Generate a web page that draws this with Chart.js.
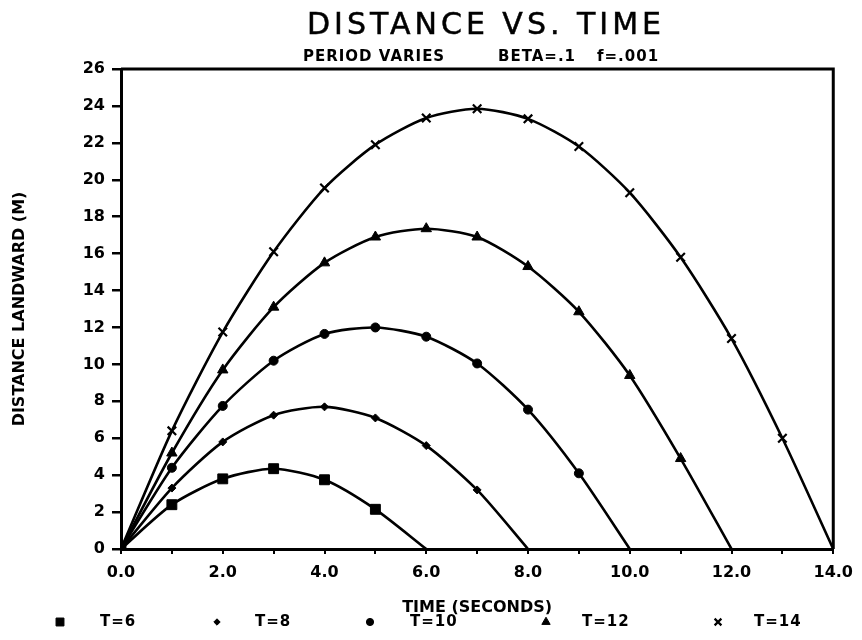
<!DOCTYPE html>
<html>
<head>
<meta charset="utf-8">
<title>Distance vs. Time</title>
<script src="https://cdn.jsdelivr.net/npm/chart.js@4/dist/chart.umd.min.js"></script>
<style>
  html, body { margin: 0; padding: 0; background: #fff; }
  #wrap { width: 862px; height: 640px; }
</style>
</head>
<body>
<div id="wrap"><canvas id="c" width="862" height="640"></canvas></div>
<script>
// Time in seconds (shared x values)
const times = [0, 1, 2, 3, 4, 5, 6, 7, 8, 9, 10, 11, 12, 13, 14];

// Series labels (wave period)
const seriesNames = ['T=6', 'T=8', 'T=10', 'T=12', 'T=14'];

// Distance landward (m) for each period, one value per second
const distT6  = [0, 2.4, 3.8, 4.35, 3.75, 2.15, 0];
const distT8  = [0, 3.3, 5.8, 7.25, 7.7, 7.1, 5.6, 3.2, 0];
const distT10 = [0, 4.4, 7.75, 10.2, 11.65, 12.0, 11.5, 10.05, 7.55, 4.1, 0];
const distT12 = [0, 5.2, 9.7, 13.1, 15.5, 16.9, 17.35, 16.9, 15.3, 12.85, 9.4, 4.9, 0];
const distT14 = [0, 6.4, 11.75, 16.1, 19.55, 21.9, 23.35, 23.85, 23.3, 21.8, 19.3, 15.8, 11.4, 6.0, 0];

// Axis tick labels
const xTickLabels = ['0.0', '2.0', '4.0', '6.0', '8.0', '10.0', '12.0', '14.0'];
const yTickValues = [0, 2, 4, 6, 8, 10, 12, 14, 16, 18, 20, 22, 24, 26];

const allSeries = [distT6, distT8, distT10, distT12, distT14];
const markerStyles = [
  { pointStyle: 'rect',     radius: 7,   border: 1 },
  { pointStyle: 'rectRot',  radius: 4,   border: 1 },
  { pointStyle: 'circle',   radius: 4.5, border: 1 },
  { pointStyle: 'triangle', radius: 6,   border: 1 },
  { pointStyle: 'crossRot', radius: 6,   border: 2.2 }
];

const FONT = '"DejaVu Sans", "Liberation Sans", sans-serif';

const datasets = allSeries.map((vals, i) => ({
  label: seriesNames[i],
  data: vals.map((v, k) => ({ x: times[k], y: v })),
  borderColor: '#000',
  borderWidth: 2.6,
  backgroundColor: '#000',
  pointStyle: markerStyles[i].pointStyle,
  pointRadius: (c) => (c.dataIndex === vals.length - 1 ? 0 : markerStyles[i].radius),
  pointHoverRadius: 0,
  pointBackgroundColor: '#000',
  pointBorderColor: '#000',
  pointBorderWidth: markerStyles[i].border,
  tension: 0.25,
  fill: false
}));

// Heading lines above the plot
const headingPlugin = {
  id: 'heading',
  afterDraw(chart) {
    const ctx = chart.ctx;
    ctx.save();
    ctx.fillStyle = '#000';
    ctx.strokeStyle = '#000';
    ctx.textBaseline = 'middle';
    ctx.textAlign = 'center';
    ctx.font = 'normal 30px ' + FONT;
    if ('letterSpacing' in ctx) ctx.letterSpacing = '4px';
    ctx.lineWidth = 0.5;
    ctx.fillText('DISTANCE VS. TIME', 486, 26);
    ctx.strokeText('DISTANCE VS. TIME', 486, 26);
    if ('letterSpacing' in ctx) ctx.letterSpacing = '1px';
    ctx.textAlign = 'left';
    ctx.font = 'bold 15px ' + FONT;
    ctx.fillText('PERIOD VARIES', 303, 57);
    ctx.fillText('BETA=.1', 498, 57);
    ctx.fillText('f=.001', 597, 57);
    ctx.restore();
  }
};

// Top and right edges of the plot frame
const framePlugin = {
  id: 'frame',
  afterDatasetsDraw(chart) {
    const { ctx, chartArea: a } = chart;
    ctx.save();
    ctx.strokeStyle = '#000';
    ctx.lineWidth = 3;
    ctx.beginPath();
    ctx.moveTo(a.left, a.top);
    ctx.lineTo(a.right, a.top);
    ctx.lineTo(a.right, a.bottom);
    ctx.stroke();
    ctx.restore();
  }
};

// Symbol key along the bottom edge
const keyPlugin = {
  id: 'bottomKey',
  afterDraw(chart, args, opts) {
    const ctx = chart.ctx;
    ctx.save();
    chart.data.datasets.forEach((ds, i) => {
      const m = markerStyles[i];
      ctx.fillStyle = '#000';
      ctx.strokeStyle = '#000';
      ctx.lineWidth = m.border;
      Chart.helpers.drawPoint(ctx, {
        pointStyle: m.pointStyle,
        radius: m.radius * 0.8,
        rotation: 0,
        borderWidth: m.border
      }, opts.markX[i], opts.y);
      ctx.font = 'bold 15px ' + FONT;
      if ('letterSpacing' in ctx) ctx.letterSpacing = '1px';
      ctx.textAlign = 'left';
      ctx.textBaseline = 'middle';
      ctx.fillText(ds.label, opts.textX[i], opts.y);
      if ('letterSpacing' in ctx) ctx.letterSpacing = '0px';
    });
    ctx.restore();
  }
};

new Chart(document.getElementById('c'), {
  type: 'line',
  data: { datasets },
  plugins: [headingPlugin, framePlugin, keyPlugin],
  options: {
    responsive: false,
    animation: false,
    events: [],
    layout: { padding: { top: 69, right: 24, left: 0, bottom: 0 } },
    plugins: {
      legend: { display: false },
      tooltip: { enabled: false },
      title: { display: false },
      bottomKey: {
        y: 622,
        markX: [60, 217, 370, 546, 718],
        textX: [100, 255, 410, 582, 754]
      }
    },
    scales: {
      x: {
        type: 'linear',
        min: 0,
        max: 14,
        afterFit(s) { s.height = 91; },
        afterBuildTicks(s) { s.ticks = times.map(t => ({ value: t })); },
        border: { display: true, color: '#000', width: 3 },
        grid: { drawOnChartArea: false, drawTicks: true, tickLength: 5, color: '#000', lineWidth: 2 },
        ticks: {
          autoSkip: false,
          maxRotation: 0,
          padding: 9,
          color: '#000',
          font: { family: FONT, size: 16, weight: 'bold' },
          callback: (v) => (v % 2 === 0 ? xTickLabels[v / 2] : '')
        },
        title: {
          display: true,
          text: 'TIME (SECONDS)',
          color: '#000',
          font: { family: FONT, size: 16, weight: 'bold' },
          padding: { top: 0, bottom: 23 }
        }
      },
      y: {
        type: 'linear',
        min: 0,
        max: 26,
        afterFit(s) { s.width = 121; },
        afterBuildTicks(s) { s.ticks = yTickValues.map(v => ({ value: v })); },
        border: { display: true, color: '#000', width: 3 },
        grid: { drawOnChartArea: false, drawTicks: true, tickLength: 9, color: '#000', lineWidth: 2.5 },
        ticks: {
          padding: 7,
          color: '#000',
          font: { family: FONT, size: 16, weight: 'bold' },
          callback: (v) => String(v)
        },
        title: {
          display: true,
          text: 'DISTANCE LANDWARD (M)',
          color: '#000',
          font: { family: FONT, size: 16, weight: 'bold' },
          padding: { top: 10, bottom: 0 }
        }
      }
    }
  }
});
</script>
</body>
</html>
